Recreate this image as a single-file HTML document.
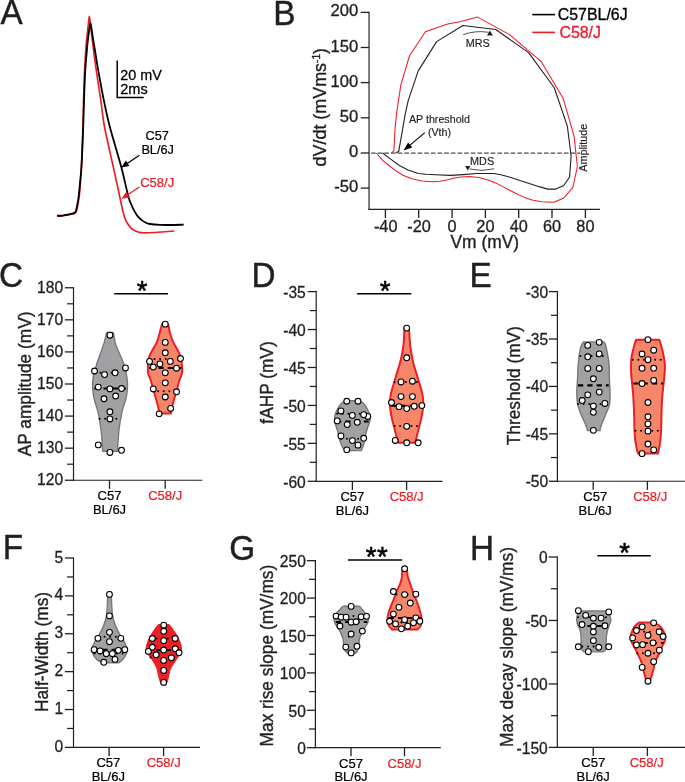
<!DOCTYPE html>
<html lang="en">
<head>
<meta charset="utf-8">
<title>Figure</title>
<style>
html,body{margin:0;padding:0;background:#fff;}
body{width:685px;height:782px;overflow:hidden;}
svg{display:block;}
svg text{font-family:"Liberation Sans", sans-serif;stroke-linejoin:round;}
</style>
</head>
<body>
<svg width="685" height="782" viewBox="0 0 685 782">
<rect width="685" height="782" fill="#fff"/>
<text transform="translate(0.6 24.2) scale(1 1.04)" font-size="33.3" fill="#231f20" stroke="#231f20" stroke-width="0.42" text-anchor="start">A</text>
<path d="M57 215.9 C57.83 215.9 60.25 216.07 62 215.9 C63.75 215.73 65.83 215.22 67.5 214.9 C69.17 214.58 70.75 214.28 72 214 C73.25 213.72 74.23 213.7 75 213.2 C75.77 212.7 76.13 212.37 76.6 211 C77.07 209.63 77.37 207.33 77.8 205 C78.23 202.67 78.77 200.67 79.2 197 C79.63 193.33 80.03 187.87 80.4 183 C80.77 178.13 81.08 174.13 81.4 167.8 C81.72 161.47 82.03 152.3 82.3 145 C82.57 137.7 82.77 132.33 83 124 C83.23 115.67 83.43 104 83.7 95 C83.97 86 84.25 77.5 84.6 70 C84.95 62.5 85.45 55.13 85.8 50 C86.15 44.87 86.28 43.43 86.7 39.2 C87.12 34.97 87.87 28.42 88.3 24.6 C88.73 20.78 88.93 16.3 89.3 16.3 C89.67 16.3 90.02 20.78 90.5 24.6 C90.98 28.42 91.28 31.9 92.2 39.2 C93.12 46.5 94.63 58.67 96 68.4 C97.37 78.13 99.07 88.33 100.4 97.6 C101.73 106.87 102.63 115.93 104 124 C105.37 132.07 107.02 138.7 108.6 146 C110.18 153.3 111.63 159.3 113.5 167.8 C115.37 176.3 118.22 189.7 119.8 197 C121.38 204.3 122.13 208.02 123 211.6 C123.87 215.18 124.27 216.55 125 218.5 C125.73 220.45 126.47 221.78 127.4 223.3 C128.33 224.82 129.38 226.38 130.6 227.6 C131.82 228.82 133.3 229.83 134.7 230.6 C136.1 231.37 137.55 231.83 139 232.2 C140.45 232.57 140.73 232.75 143.4 232.8 C146.07 232.85 151.4 232.68 155 232.5 C158.6 232.32 161.8 231.95 165 231.7 C168.2 231.45 172.67 231.12 174.2 231" fill="none" stroke="#ed1c24" stroke-width="1.65" stroke-linejoin="round"/>
<path d="M57 215.7 C57.83 215.7 60.25 215.88 62 215.7 C63.75 215.52 65.83 214.93 67.5 214.6 C69.17 214.27 70.82 214 72 213.7 C73.18 213.4 73.93 213.33 74.6 212.8 C75.27 212.27 75.57 211.8 76 210.5 C76.43 209.2 76.77 207.25 77.2 205 C77.63 202.75 78.13 200.67 78.6 197 C79.07 193.33 79.53 187.87 80 183 C80.47 178.13 80.98 174.13 81.4 167.8 C81.82 161.47 82.18 152.3 82.5 145 C82.82 137.7 83.02 132.33 83.3 124 C83.58 115.67 83.87 104 84.2 95 C84.53 86 84.85 77.5 85.3 70 C85.75 62.5 86.45 55.13 86.9 50 C87.35 44.87 87.58 42.78 88 39.2 C88.42 35.62 89.02 31.15 89.4 28.5 C89.78 25.85 89.98 23.47 90.3 23.3 C90.62 23.13 90.83 24.85 91.3 27.5 C91.77 30.15 92.42 34.95 93.1 39.2 C93.78 43.45 94.6 48.13 95.4 53 C96.2 57.87 96.58 60.97 97.9 68.4 C99.22 75.83 101.43 88.33 103.3 97.6 C105.17 106.87 107.08 115.85 109.1 124 C111.12 132.15 113.33 139.2 115.4 146.5 C117.47 153.8 119.32 159.38 121.5 167.8 C123.68 176.22 126.83 190.8 128.5 197 C130.17 203.2 130.47 202.57 131.5 205 C132.53 207.43 133.62 209.67 134.7 211.6 C135.78 213.53 136.78 215.13 138 216.6 C139.22 218.07 140.67 219.37 142 220.4 C143.33 221.43 144.67 222.2 146 222.8 C147.33 223.4 147.67 223.65 150 224 C152.33 224.35 156.67 224.73 160 224.9 C163.33 225.07 166.05 225.03 170 225 C173.95 224.97 181.42 224.75 183.7 224.7" fill="none" stroke="#000" stroke-width="1.8" stroke-linejoin="round"/>
<path d="M117.2 60.4 V97.4 H143.7" fill="none" stroke="#000" stroke-width="1.5"/>
<text transform="translate(120.3 80.2) scale(1 1.03)" font-size="14.4" fill="#000" stroke="#000" stroke-width="0.27" text-anchor="start">20 mV</text>
<text transform="translate(120.3 93.6) scale(1 1.03)" font-size="14.5" fill="#000" stroke="#000" stroke-width="0.27" text-anchor="start">2ms</text>
<text transform="translate(157.2 140.2) scale(1 1.04)" font-size="12.7" fill="#000" stroke="#000" stroke-width="0.23" text-anchor="middle">C57</text>
<text transform="translate(157.6 154.2) scale(1 1.04)" font-size="12.7" fill="#000" stroke="#000" stroke-width="0.23" text-anchor="middle">BL/6J</text>
<text transform="translate(157.2 187.2) scale(1 1.04)" font-size="13.0" fill="#ed1c24" stroke="#ed1c24" stroke-width="0.23" text-anchor="middle">C58/J</text>
<line x1="139.4" y1="155.2" x2="127.17" y2="163.51" stroke="#000" stroke-width="1.3"/>
<path d="M121.3 167.5 L125.79 160.58 L129.38 165.88 Z" fill="#000"/>
<line x1="139.4" y1="187" x2="127.41" y2="194.97" stroke="#ed1c24" stroke-width="1.3"/>
<path d="M121.5 198.9 L126.06 192.03 L129.6 197.36 Z" fill="#ed1c24"/>
<text transform="translate(273.3 24.6) scale(1 1.04)" font-size="33.3" fill="#231f20" stroke="#231f20" stroke-width="0.42" text-anchor="start">B</text>
<line x1="369.05" y1="11.8" x2="369.05" y2="209.9" stroke="#231f20" stroke-width="1.2"/>
<line x1="360.75" y1="12.4" x2="369.05" y2="12.4" stroke="#231f20" stroke-width="1.3"/>
<text transform="translate(358.25 16.4) scale(1 1.02)" font-size="16.6" fill="#231f20" stroke="#231f20" stroke-width="0.33" text-anchor="end">200</text>
<line x1="360.75" y1="47.5" x2="369.05" y2="47.5" stroke="#231f20" stroke-width="1.3"/>
<text transform="translate(358.25 51.5) scale(1 1.02)" font-size="16.6" fill="#231f20" stroke="#231f20" stroke-width="0.33" text-anchor="end">150</text>
<line x1="360.75" y1="82.6" x2="369.05" y2="82.6" stroke="#231f20" stroke-width="1.3"/>
<text transform="translate(358.25 86.6) scale(1 1.02)" font-size="16.6" fill="#231f20" stroke="#231f20" stroke-width="0.33" text-anchor="end">100</text>
<line x1="360.75" y1="117.8" x2="369.05" y2="117.8" stroke="#231f20" stroke-width="1.3"/>
<text transform="translate(358.25 121.8) scale(1 1.02)" font-size="16.6" fill="#231f20" stroke="#231f20" stroke-width="0.33" text-anchor="end">50</text>
<line x1="360.75" y1="153" x2="369.05" y2="153" stroke="#231f20" stroke-width="1.3"/>
<text transform="translate(358.25 157) scale(1 1.02)" font-size="16.6" fill="#231f20" stroke="#231f20" stroke-width="0.33" text-anchor="end">0</text>
<line x1="360.75" y1="188.1" x2="369.05" y2="188.1" stroke="#231f20" stroke-width="1.3"/>
<text transform="translate(358.25 192.1) scale(1 1.02)" font-size="16.6" fill="#231f20" stroke="#231f20" stroke-width="0.33" text-anchor="end">-50</text>
<line x1="368.45" y1="209.3" x2="600" y2="209.3" stroke="#231f20" stroke-width="1.2"/>
<line x1="385.4" y1="209.3" x2="385.4" y2="218" stroke="#231f20" stroke-width="1.3"/>
<text transform="translate(385.7 232.2) scale(1 1.03)" font-size="16.3" fill="#231f20" stroke="#231f20" stroke-width="0.32" text-anchor="middle">-40</text>
<line x1="418.7" y1="209.3" x2="418.7" y2="218" stroke="#231f20" stroke-width="1.3"/>
<text transform="translate(419 232.2) scale(1 1.03)" font-size="16.3" fill="#231f20" stroke="#231f20" stroke-width="0.32" text-anchor="middle">-20</text>
<line x1="452.1" y1="209.3" x2="452.1" y2="218" stroke="#231f20" stroke-width="1.3"/>
<text transform="translate(452.1 232.2) scale(1 1.03)" font-size="16.3" fill="#231f20" stroke="#231f20" stroke-width="0.32" text-anchor="middle">0</text>
<line x1="485.4" y1="209.3" x2="485.4" y2="218" stroke="#231f20" stroke-width="1.3"/>
<text transform="translate(485.4 232.2) scale(1 1.03)" font-size="16.3" fill="#231f20" stroke="#231f20" stroke-width="0.32" text-anchor="middle">20</text>
<line x1="518.7" y1="209.3" x2="518.7" y2="218" stroke="#231f20" stroke-width="1.3"/>
<text transform="translate(518.7 232.2) scale(1 1.03)" font-size="16.3" fill="#231f20" stroke="#231f20" stroke-width="0.32" text-anchor="middle">40</text>
<line x1="552" y1="209.3" x2="552" y2="218" stroke="#231f20" stroke-width="1.3"/>
<text transform="translate(552 232.2) scale(1 1.03)" font-size="16.3" fill="#231f20" stroke="#231f20" stroke-width="0.32" text-anchor="middle">60</text>
<line x1="585.4" y1="209.3" x2="585.4" y2="218" stroke="#231f20" stroke-width="1.3"/>
<text transform="translate(585.4 232.2) scale(1 1.03)" font-size="16.3" fill="#231f20" stroke="#231f20" stroke-width="0.32" text-anchor="middle">80</text>
<text transform="translate(484.8 247.6) scale(1 1.02)" font-size="17.4" fill="#231f20" stroke="#231f20" stroke-width="0.35" text-anchor="middle">Vm (mV)</text>
<text font-size="17.9" fill="#231f20" stroke="#231f20" stroke-width="0.35" text-anchor="middle" transform="translate(325.7 107.2) rotate(-90) scale(1 1.06)">dV/dt (mVms<tspan font-size="10.2" dy="-5.8">-1</tspan><tspan dy="5.8">)</tspan></text>
<line x1="371.05" y1="153.1" x2="580.2" y2="153.1" stroke="#4d4d4f" stroke-width="1.2" stroke-dasharray="4.6 2.05"/>
<path d="M391.4 153 L393.9 150.9 L395 129 L396.5 113.9 L400.9 84.7 L409.6 55.5 L425.4 31.7 L447.6 24.1 L460 21.7 L477.5 17.1 L509.6 34.6 L541 61.3 L563.1 98.2 L574 135.9 L577.4 166.5 L572.8 187.7 L563.8 197.9 L553.9 202.3 L541.9 201.8 L532 200 L524.7 197.6 L515 193 L505.7 188.1 L497 183.6 L488.2 180.1 L479 177.6 L469.2 176.4 L461 176.9 L454.6 177.9 L447.6 179.8 L440 181.3 L433 181.8 L422 181 L411.1 178.6 L403 175.3 L396.5 171.3 L389 165.5 L381.9 159.6 L376.4 153" fill="none" stroke="#ed1c24" stroke-width="1.05" stroke-linejoin="round"/>
<path d="M395.8 152.8 L398.7 151.6 L401.6 134.8 L405.3 113.9 L408.2 100.7 L418.1 71.1 L436.6 41.6 L462.9 25.5 L495.8 29.5 L528.6 52.6 L554.3 87.7 L567.4 126.4 L571.1 156 L569.6 177 L563.8 185.5 L555.8 189.1 L547.7 189.1 L540 186.9 L520 180.4 L510 177.2 L502 175 L494 173.5 L476.5 173.5 L463 174.6 L450.2 175.4 L435.9 174.7 L426 174.3 L418.4 173.5 L408 170 L399.4 165.5 L390 158.6 L382.6 153" fill="none" stroke="#231f20" stroke-width="1.1" stroke-linejoin="round"/>
<line x1="532.3" y1="14.6" x2="555" y2="14.6" stroke="#000" stroke-width="1.6"/>
<line x1="532.3" y1="32.4" x2="555" y2="32.4" stroke="#ed1c24" stroke-width="1.6"/>
<text transform="translate(557.8 20.3) scale(1 1.04)" font-size="15.9" fill="#000" stroke="#000" stroke-width="0.31" text-anchor="start">C57BL/6J</text>
<text transform="translate(559.4 38.2) scale(1 1.04)" font-size="15.9" fill="#ed1c24" stroke="#ed1c24" stroke-width="0.31" text-anchor="start">C58/J</text>
<text transform="translate(477.7 46.6)" font-size="10.8" fill="#231f20" stroke="#231f20" stroke-width="0.18" text-anchor="middle">MRS</text>
<path d="M463.2 34.6 Q476 30.2 488.6 32.3" fill="none" stroke="#231f20" stroke-width="0.8"/>
<path d="M489.9 30.6 L492.9 35.6 L487 35.6 Z" fill="#231f20"/>
<text transform="translate(482.1 165.2)" font-size="10.8" fill="#231f20" stroke="#231f20" stroke-width="0.18" text-anchor="middle">MDS</text>
<path d="M469.6 169.0 Q482 171.8 494.2 168.8" fill="none" stroke="#231f20" stroke-width="0.8"/>
<path d="M467.7 170.6 L465.1 166.1 L470.4 166.1 Z" fill="#231f20"/>
<text transform="translate(439.4 123.4)" font-size="10.7" fill="#231f20" stroke="#231f20" stroke-width="0.17" text-anchor="middle">AP threshold</text>
<text transform="translate(439.5 136)" font-size="10.7" fill="#231f20" stroke="#231f20" stroke-width="0.17" text-anchor="middle">(Vth)</text>
<line x1="424.8" y1="132.6" x2="409.77" y2="145.36" stroke="#000" stroke-width="1.1"/>
<path d="M403.6 150.6 L408.08 142.59 L412.23 147.47 Z" fill="#000"/>
<text transform="translate(586.9 147.8) rotate(-90) scale(1 1.06)" font-size="10.8" fill="#231f20" stroke="#231f20" stroke-width="0.18" text-anchor="middle">Amplitude</text>
<text transform="translate(-0.9 287) scale(1 1.04)" font-size="33.3" fill="#231f20" stroke="#231f20" stroke-width="0.42" text-anchor="start">C</text>
<line x1="73.5" y1="287.15" x2="73.5" y2="480.85" stroke="#231f20" stroke-width="1.2"/>
<line x1="64.9" y1="287.75" x2="73.5" y2="287.75" stroke="#231f20" stroke-width="1.3"/>
<text transform="translate(63.1 292.75) scale(1 1.03)" font-size="15.6" fill="#231f20" stroke="#231f20" stroke-width="0.3" text-anchor="end">180</text>
<line x1="67.1" y1="303.79" x2="73.5" y2="303.79" stroke="#231f20" stroke-width="1.25"/>
<line x1="64.9" y1="319.83" x2="73.5" y2="319.83" stroke="#231f20" stroke-width="1.3"/>
<text transform="translate(63.1 324.83) scale(1 1.03)" font-size="15.6" fill="#231f20" stroke="#231f20" stroke-width="0.3" text-anchor="end">170</text>
<line x1="67.1" y1="335.88" x2="73.5" y2="335.88" stroke="#231f20" stroke-width="1.25"/>
<line x1="64.9" y1="351.92" x2="73.5" y2="351.92" stroke="#231f20" stroke-width="1.3"/>
<text transform="translate(63.1 356.92) scale(1 1.03)" font-size="15.6" fill="#231f20" stroke="#231f20" stroke-width="0.3" text-anchor="end">160</text>
<line x1="67.1" y1="367.96" x2="73.5" y2="367.96" stroke="#231f20" stroke-width="1.25"/>
<line x1="64.9" y1="384" x2="73.5" y2="384" stroke="#231f20" stroke-width="1.3"/>
<text transform="translate(63.1 389) scale(1 1.03)" font-size="15.6" fill="#231f20" stroke="#231f20" stroke-width="0.3" text-anchor="end">150</text>
<line x1="67.1" y1="400.04" x2="73.5" y2="400.04" stroke="#231f20" stroke-width="1.25"/>
<line x1="64.9" y1="416.08" x2="73.5" y2="416.08" stroke="#231f20" stroke-width="1.3"/>
<text transform="translate(63.1 421.08) scale(1 1.03)" font-size="15.6" fill="#231f20" stroke="#231f20" stroke-width="0.3" text-anchor="end">140</text>
<line x1="67.1" y1="432.13" x2="73.5" y2="432.13" stroke="#231f20" stroke-width="1.25"/>
<line x1="64.9" y1="448.17" x2="73.5" y2="448.17" stroke="#231f20" stroke-width="1.3"/>
<text transform="translate(63.1 453.17) scale(1 1.03)" font-size="15.6" fill="#231f20" stroke="#231f20" stroke-width="0.3" text-anchor="end">130</text>
<line x1="67.1" y1="464.21" x2="73.5" y2="464.21" stroke="#231f20" stroke-width="1.25"/>
<line x1="64.9" y1="480.25" x2="73.5" y2="480.25" stroke="#231f20" stroke-width="1.3"/>
<text transform="translate(63.1 485.25) scale(1 1.03)" font-size="15.6" fill="#231f20" stroke="#231f20" stroke-width="0.3" text-anchor="end">120</text>
<line x1="72.9" y1="480.25" x2="202.3" y2="480.25" stroke="#231f20" stroke-width="1.2"/>
<line x1="109.5" y1="480.25" x2="109.5" y2="488.85" stroke="#231f20" stroke-width="1.3"/>
<line x1="165.2" y1="480.25" x2="165.2" y2="488.85" stroke="#231f20" stroke-width="1.3"/>
<text transform="translate(109.5 500.05) scale(1 1.04)" font-size="13.0" fill="#000" stroke="#000" stroke-width="0.23" text-anchor="middle">C57</text>
<text transform="translate(109.5 513.75) scale(1 1.04)" font-size="13.0" fill="#000" stroke="#000" stroke-width="0.23" text-anchor="middle">BL/6J</text>
<text transform="translate(165.2 500.05) scale(1 1.04)" font-size="13.0" fill="#ed1c24" stroke="#ed1c24" stroke-width="0.23" text-anchor="middle">C58/J</text>
<text transform="translate(30.7 383.9) rotate(-90) scale(1 1.07)" font-size="17.3" fill="#231f20" stroke="#231f20" stroke-width="0.35" text-anchor="middle">AP amplitude (mV)</text>
<path d="M107.39 332.45 C107.22 332.7 106.95 332.2 106.4 333.94 C105.85 335.68 104.97 339.91 104.08 342.89 C103.18 345.87 102.09 348.85 101.03 351.83 C99.98 354.82 98.5 358.54 97.73 360.78 C96.95 363.01 97.05 363.01 96.38 365.25 C95.71 367.49 94.33 371.21 93.7 374.19 C93.07 377.18 92.78 380.51 92.63 383.14 C92.48 385.77 92.55 387.37 92.81 390 C93.06 392.63 93.48 395.96 94.15 398.94 C94.82 401.93 96.01 404.91 96.83 407.89 C97.65 410.87 98.47 413.85 99.07 416.83 C99.66 419.82 99.99 422.8 100.41 425.78 C100.83 428.76 101.27 431.74 101.57 434.72 C101.87 437.7 102.02 440.91 102.2 443.67 C102.38 446.42 102.57 449.98 102.64 451.25 L117.44 451.25 C117.52 449.98 117.71 446.42 117.89 443.67 C118.07 440.91 118.25 437.7 118.52 434.72 C118.79 431.74 119.08 428.76 119.5 425.78 C119.92 422.8 120.44 419.82 121.02 416.83 C121.6 413.85 122.17 410.87 122.99 407.89 C123.81 404.91 125.23 401.93 125.94 398.94 C126.66 395.96 127.03 392.63 127.28 390 C127.54 387.37 127.61 385.77 127.46 383.14 C127.31 380.51 126.94 377.18 126.39 374.19 C125.84 371.21 124.78 367.49 124.15 365.25 C123.53 363.01 123.54 363.01 122.63 360.78 C121.72 358.54 119.93 354.82 118.7 351.83 C117.46 348.85 116.04 345.87 115.21 342.89 C114.37 339.91 114.11 335.68 113.69 333.94 C113.27 332.2 112.87 332.7 112.7 332.45 Z" fill="#a0a1a3" stroke="#77787b" stroke-width="1.4" stroke-linejoin="round"/>
<line x1="94.16" y1="388.55" x2="126.02" y2="388.55" stroke="#000" stroke-width="2.05" stroke-dasharray="5.2 4.1"/>
<line x1="100.43" y1="372.8" x2="119.22" y2="372.8" stroke="#000" stroke-width="2.0" stroke-linecap="round" stroke-dasharray="0.01 5.6"/>
<line x1="99.53" y1="418.79" x2="118.32" y2="418.79" stroke="#000" stroke-width="2.0" stroke-linecap="round" stroke-dasharray="0.01 5.6"/>
<circle cx="109.91" cy="335.21" r="2.9" fill="#fff" stroke="#000" stroke-width="1.08"/>
<circle cx="94.52" cy="371.01" r="2.9" fill="#fff" stroke="#000" stroke-width="1.08"/>
<circle cx="125.48" cy="367.96" r="2.9" fill="#fff" stroke="#000" stroke-width="1.08"/>
<circle cx="104.54" cy="374.59" r="2.9" fill="#fff" stroke="#000" stroke-width="1.08"/>
<circle cx="115.1" cy="372.8" r="2.9" fill="#fff" stroke="#000" stroke-width="1.08"/>
<circle cx="98.28" cy="387.11" r="2.9" fill="#fff" stroke="#000" stroke-width="1.08"/>
<circle cx="109.91" cy="388.9" r="2.9" fill="#fff" stroke="#000" stroke-width="1.08"/>
<circle cx="121.54" cy="388.55" r="2.9" fill="#fff" stroke="#000" stroke-width="1.08"/>
<circle cx="115.64" cy="396.06" r="2.9" fill="#fff" stroke="#000" stroke-width="1.08"/>
<circle cx="104" cy="398.75" r="2.9" fill="#fff" stroke="#000" stroke-width="1.08"/>
<circle cx="109.91" cy="411.81" r="2.9" fill="#fff" stroke="#000" stroke-width="1.08"/>
<circle cx="109.91" cy="418.97" r="2.9" fill="#fff" stroke="#000" stroke-width="1.08"/>
<circle cx="98.28" cy="444.92" r="2.9" fill="#fff" stroke="#000" stroke-width="1.08"/>
<circle cx="121.54" cy="450.29" r="2.9" fill="#fff" stroke="#000" stroke-width="1.08"/>
<circle cx="109.91" cy="452.44" r="2.9" fill="#fff" stroke="#000" stroke-width="1.08"/>
<path d="M162.01 324.13 C161.89 324.55 161.68 325.17 161.29 326.63 C160.91 328.09 160.4 330.35 159.68 332.89 C158.97 335.42 158.27 338.85 157 341.83 C155.73 344.82 153.39 348.24 152.08 350.78 C150.77 353.31 149.8 354.8 149.13 357.04 C148.46 359.28 148.23 361.51 148.06 364.19 C147.88 366.88 147.68 370.68 148.06 373.14 C148.43 375.6 149.47 376.49 150.29 378.94 C151.11 381.4 152.13 384.91 152.98 387.89 C153.82 390.87 154.57 393.85 155.39 396.83 C156.21 399.82 157.22 402.99 157.89 405.78 C158.57 408.56 159.16 412.26 159.42 413.55 L170.85 413.55 C171.11 412.26 171.7 408.56 172.37 405.78 C173.04 402.99 174.04 399.82 174.88 396.83 C175.71 393.85 176.56 390.87 177.38 387.89 C178.2 384.91 179.02 381.4 179.8 378.94 C180.57 376.49 181.69 375.6 182.03 373.14 C182.38 370.68 182.08 366.88 181.85 364.19 C181.63 361.51 181.33 359.28 180.69 357.04 C180.05 354.8 179.28 353.31 178.01 350.78 C176.74 348.24 174.43 344.82 173.09 341.83 C171.75 338.85 170.67 335.42 169.96 332.89 C169.24 330.35 169.11 328.09 168.8 326.63 C168.48 325.17 168.2 324.55 168.08 324.13 Z" fill="#f5866a" stroke="#ed1c24" stroke-width="1.95" stroke-linejoin="round"/>
<line x1="149.16" y1="368.01" x2="181.38" y2="368.01" stroke="#000" stroke-width="2.05" stroke-dasharray="5.2 4.1"/>
<line x1="154.53" y1="359.06" x2="174.22" y2="359.06" stroke="#000" stroke-width="2.0" stroke-linecap="round" stroke-dasharray="0.01 5.6"/>
<line x1="158.11" y1="391.28" x2="172.43" y2="391.28" stroke="#000" stroke-width="2.0" stroke-linecap="round" stroke-dasharray="0.01 5.6"/>
<circle cx="165.27" cy="324.16" r="2.9" fill="#fff" stroke="#000" stroke-width="1.08"/>
<circle cx="165.27" cy="342.42" r="2.9" fill="#fff" stroke="#000" stroke-width="1.08"/>
<circle cx="165.27" cy="352.8" r="2.9" fill="#fff" stroke="#000" stroke-width="1.08"/>
<circle cx="180.48" cy="358.52" r="2.9" fill="#fff" stroke="#000" stroke-width="1.08"/>
<circle cx="149.52" cy="361.39" r="2.9" fill="#fff" stroke="#000" stroke-width="1.08"/>
<circle cx="170.28" cy="361.39" r="2.9" fill="#fff" stroke="#000" stroke-width="1.08"/>
<circle cx="159.9" cy="363.89" r="2.9" fill="#fff" stroke="#000" stroke-width="1.08"/>
<circle cx="153.28" cy="367.11" r="2.9" fill="#fff" stroke="#000" stroke-width="1.08"/>
<circle cx="176.54" cy="368.19" r="2.9" fill="#fff" stroke="#000" stroke-width="1.08"/>
<circle cx="165.27" cy="372.84" r="2.9" fill="#fff" stroke="#000" stroke-width="1.08"/>
<circle cx="165.27" cy="382.86" r="2.9" fill="#fff" stroke="#000" stroke-width="1.08"/>
<circle cx="153.28" cy="388.95" r="2.9" fill="#fff" stroke="#000" stroke-width="1.08"/>
<circle cx="176.54" cy="391.81" r="2.9" fill="#fff" stroke="#000" stroke-width="1.08"/>
<circle cx="165.27" cy="397" r="2.9" fill="#fff" stroke="#000" stroke-width="1.08"/>
<circle cx="170.64" cy="408.46" r="2.9" fill="#fff" stroke="#000" stroke-width="1.08"/>
<circle cx="159.18" cy="413.83" r="2.9" fill="#fff" stroke="#000" stroke-width="1.08"/>
<line x1="114.2" y1="293.7" x2="168" y2="293.7" stroke="#000" stroke-width="1.45"/>
<text transform="translate(142 299.6)" font-size="27.5" fill="#000" stroke="#000" stroke-width="0.42" text-anchor="middle" style="stroke-width:0.55px">*</text>
<text transform="translate(251.4 287) scale(1 1.04)" font-size="33.3" fill="#231f20" stroke="#231f20" stroke-width="0.42" text-anchor="start">D</text>
<line x1="316.2" y1="291" x2="316.2" y2="481.9" stroke="#231f20" stroke-width="1.2"/>
<line x1="307.6" y1="291.6" x2="316.2" y2="291.6" stroke="#231f20" stroke-width="1.3"/>
<text transform="translate(305.8 297.9) scale(1 1.03)" font-size="15.6" fill="#231f20" stroke="#231f20" stroke-width="0.3" text-anchor="end">-35</text>
<line x1="309.8" y1="310.57" x2="316.2" y2="310.57" stroke="#231f20" stroke-width="1.25"/>
<line x1="307.6" y1="329.54" x2="316.2" y2="329.54" stroke="#231f20" stroke-width="1.3"/>
<text transform="translate(305.8 335.84) scale(1 1.03)" font-size="15.6" fill="#231f20" stroke="#231f20" stroke-width="0.3" text-anchor="end">-40</text>
<line x1="309.8" y1="348.51" x2="316.2" y2="348.51" stroke="#231f20" stroke-width="1.25"/>
<line x1="307.6" y1="367.48" x2="316.2" y2="367.48" stroke="#231f20" stroke-width="1.3"/>
<text transform="translate(305.8 373.78) scale(1 1.03)" font-size="15.6" fill="#231f20" stroke="#231f20" stroke-width="0.3" text-anchor="end">-45</text>
<line x1="309.8" y1="386.45" x2="316.2" y2="386.45" stroke="#231f20" stroke-width="1.25"/>
<line x1="307.6" y1="405.42" x2="316.2" y2="405.42" stroke="#231f20" stroke-width="1.3"/>
<text transform="translate(305.8 411.72) scale(1 1.03)" font-size="15.6" fill="#231f20" stroke="#231f20" stroke-width="0.3" text-anchor="end">-50</text>
<line x1="309.8" y1="424.39" x2="316.2" y2="424.39" stroke="#231f20" stroke-width="1.25"/>
<line x1="307.6" y1="443.36" x2="316.2" y2="443.36" stroke="#231f20" stroke-width="1.3"/>
<text transform="translate(305.8 449.66) scale(1 1.03)" font-size="15.6" fill="#231f20" stroke="#231f20" stroke-width="0.3" text-anchor="end">-55</text>
<line x1="309.8" y1="462.33" x2="316.2" y2="462.33" stroke="#231f20" stroke-width="1.25"/>
<line x1="307.6" y1="481.3" x2="316.2" y2="481.3" stroke="#231f20" stroke-width="1.3"/>
<text transform="translate(305.8 487.6) scale(1 1.03)" font-size="15.6" fill="#231f20" stroke="#231f20" stroke-width="0.3" text-anchor="end">-60</text>
<line x1="315.6" y1="481.3" x2="442.5" y2="481.3" stroke="#231f20" stroke-width="1.2"/>
<line x1="352.4" y1="481.3" x2="352.4" y2="489.9" stroke="#231f20" stroke-width="1.3"/>
<line x1="406.6" y1="481.3" x2="406.6" y2="489.9" stroke="#231f20" stroke-width="1.3"/>
<text transform="translate(352.4 501.1) scale(1 1.04)" font-size="13.0" fill="#000" stroke="#000" stroke-width="0.23" text-anchor="middle">C57</text>
<text transform="translate(352.4 514.8) scale(1 1.04)" font-size="13.0" fill="#000" stroke="#000" stroke-width="0.23" text-anchor="middle">BL/6J</text>
<text transform="translate(406.6 501.1) scale(1 1.04)" font-size="13.0" fill="#ed1c24" stroke="#ed1c24" stroke-width="0.23" text-anchor="middle">C58/J</text>
<text transform="translate(273.2 382.5) rotate(-90) scale(1 1.07)" font-size="17.3" fill="#231f20" stroke="#231f20" stroke-width="0.35" text-anchor="middle">fAHP (mV)</text>
<path d="M344.63 400.79 C344.05 401.31 342.24 402.73 341.13 403.94 C340.02 405.15 338.99 406.18 337.97 408.03 C336.96 409.88 335.58 412.9 335.05 415.04 C334.53 417.18 334.63 418.93 334.82 420.88 C335.02 422.82 335.7 424.77 336.22 426.72 C336.75 428.66 337.49 430.61 337.97 432.55 C338.46 434.5 338.62 436.45 339.14 438.39 C339.67 440.34 340.45 442.58 341.13 444.23 C341.81 445.89 342.53 447.25 343.23 448.32 C343.93 449.39 344.98 450.27 345.33 450.66 L361.28 450.66 C361.44 450.27 361.83 449.39 362.22 448.32 C362.61 447.25 363.15 445.89 363.62 444.23 C364.08 442.58 364.59 440.34 365.02 438.39 C365.45 436.45 365.7 434.5 366.19 432.55 C366.67 430.61 367.32 428.66 367.94 426.72 C368.56 424.77 369.63 422.82 369.92 420.88 C370.22 418.93 370.22 417.18 369.69 415.04 C369.16 412.9 367.74 409.88 366.77 408.03 C365.8 406.18 364.96 405.15 363.85 403.94 C362.74 402.73 360.74 401.31 360.11 400.79 Z" fill="#a0a1a3" stroke="#77787b" stroke-width="1.4" stroke-linejoin="round"/>
<line x1="336.02" y1="421.46" x2="368.72" y2="421.46" stroke="#000" stroke-width="2.05" stroke-dasharray="5.2 4.1"/>
<line x1="337.19" y1="413.87" x2="367.55" y2="413.87" stroke="#000" stroke-width="2.0" stroke-linecap="round" stroke-dasharray="0.01 5.6"/>
<line x1="341.28" y1="438.74" x2="364.05" y2="438.74" stroke="#000" stroke-width="2.0" stroke-linecap="round" stroke-dasharray="0.01 5.6"/>
<circle cx="346.77" cy="401.26" r="2.9" fill="#fff" stroke="#000" stroke-width="1.08"/>
<circle cx="357.98" cy="401.26" r="2.9" fill="#fff" stroke="#000" stroke-width="1.08"/>
<circle cx="340.93" cy="410.95" r="2.9" fill="#fff" stroke="#000" stroke-width="1.08"/>
<circle cx="352.37" cy="415.39" r="2.9" fill="#fff" stroke="#000" stroke-width="1.08"/>
<circle cx="367.79" cy="416.44" r="2.9" fill="#fff" stroke="#000" stroke-width="1.08"/>
<circle cx="363.7" cy="414.69" r="2.9" fill="#fff" stroke="#000" stroke-width="1.08"/>
<circle cx="337.19" cy="420.88" r="2.9" fill="#fff" stroke="#000" stroke-width="1.08"/>
<circle cx="357.28" cy="422.28" r="2.9" fill="#fff" stroke="#000" stroke-width="1.08"/>
<circle cx="347.23" cy="424.61" r="2.9" fill="#fff" stroke="#000" stroke-width="1.08"/>
<circle cx="340.93" cy="435.94" r="2.9" fill="#fff" stroke="#000" stroke-width="1.08"/>
<circle cx="363.7" cy="438.28" r="2.9" fill="#fff" stroke="#000" stroke-width="1.08"/>
<circle cx="352.37" cy="440.61" r="2.9" fill="#fff" stroke="#000" stroke-width="1.08"/>
<circle cx="357.98" cy="445.17" r="2.9" fill="#fff" stroke="#000" stroke-width="1.08"/>
<circle cx="346.77" cy="449.84" r="2.9" fill="#fff" stroke="#000" stroke-width="1.08"/>
<path d="M404.41 327.9 C404.35 329.39 404.23 333.86 404.05 336.85 C403.87 339.83 403.69 342.81 403.33 345.79 C402.98 348.78 402.5 351.76 401.9 354.74 C401.31 357.73 400.56 360.71 399.75 363.69 C398.95 366.67 397.96 369.66 397.07 372.64 C396.18 375.62 395.43 378.01 394.39 381.59 C393.34 385.17 391.55 390.24 390.81 394.12 C390.06 397.99 389.76 400.98 389.91 404.85 C390.06 408.73 390.96 413.5 391.7 417.38 C392.45 421.26 393.64 425.14 394.39 428.12 C395.13 431.1 395.49 432.83 396.18 435.28 C396.86 437.73 398.11 441.54 398.5 442.8 L415.26 442.8 C415.55 441.54 416.45 437.73 417.05 435.28 C417.64 432.83 418.09 431.1 418.84 428.12 C419.58 425.14 420.77 421.26 421.52 417.38 C422.27 413.5 423.16 408.73 423.31 404.85 C423.46 400.98 423.16 397.99 422.42 394.12 C421.67 390.24 419.88 385.17 418.84 381.59 C417.79 378.01 417.05 375.62 416.15 372.64 C415.26 369.66 414.21 366.67 413.47 363.69 C412.72 360.71 412.21 357.73 411.68 354.74 C411.14 351.76 410.6 348.78 410.25 345.79 C409.89 342.81 409.74 339.83 409.53 336.85 C409.32 333.86 409.08 329.39 408.99 327.9 Z" fill="#f5866a" stroke="#ed1c24" stroke-width="1.95" stroke-linejoin="round"/>
<line x1="390.95" y1="405.75" x2="422.27" y2="405.75" stroke="#000" stroke-width="2.05" stroke-dasharray="5.2 4.1"/>
<line x1="394.53" y1="381.95" x2="418.69" y2="381.95" stroke="#000" stroke-width="2.0" stroke-linecap="round" stroke-dasharray="0.01 5.6"/>
<line x1="394.53" y1="425.97" x2="418.69" y2="425.97" stroke="#000" stroke-width="2.0" stroke-linecap="round" stroke-dasharray="0.01 5.6"/>
<circle cx="406.7" cy="328.08" r="2.9" fill="#fff" stroke="#000" stroke-width="1.08"/>
<circle cx="406.7" cy="357.79" r="2.9" fill="#fff" stroke="#000" stroke-width="1.08"/>
<circle cx="400.97" cy="381.95" r="2.9" fill="#fff" stroke="#000" stroke-width="1.08"/>
<circle cx="412.43" cy="381.23" r="2.9" fill="#fff" stroke="#000" stroke-width="1.08"/>
<circle cx="400.97" cy="396.62" r="2.9" fill="#fff" stroke="#000" stroke-width="1.08"/>
<circle cx="412.43" cy="396.62" r="2.9" fill="#fff" stroke="#000" stroke-width="1.08"/>
<circle cx="391.49" cy="402.53" r="2.9" fill="#fff" stroke="#000" stroke-width="1.08"/>
<circle cx="399" cy="406.64" r="2.9" fill="#fff" stroke="#000" stroke-width="1.08"/>
<circle cx="406.7" cy="408.61" r="2.9" fill="#fff" stroke="#000" stroke-width="1.08"/>
<circle cx="414.22" cy="406.29" r="2.9" fill="#fff" stroke="#000" stroke-width="1.08"/>
<circle cx="421.91" cy="405.57" r="2.9" fill="#fff" stroke="#000" stroke-width="1.08"/>
<circle cx="406.7" cy="426.33" r="2.9" fill="#fff" stroke="#000" stroke-width="1.08"/>
<circle cx="395.25" cy="440.47" r="2.9" fill="#fff" stroke="#000" stroke-width="1.08"/>
<circle cx="406.7" cy="442.8" r="2.9" fill="#fff" stroke="#000" stroke-width="1.08"/>
<circle cx="418.15" cy="442.8" r="2.9" fill="#fff" stroke="#000" stroke-width="1.08"/>
<line x1="357.1" y1="293.7" x2="411.3" y2="293.7" stroke="#000" stroke-width="1.45"/>
<text transform="translate(385 299.6)" font-size="27.5" fill="#000" stroke="#000" stroke-width="0.42" text-anchor="middle" style="stroke-width:0.55px">*</text>
<text transform="translate(469.6 287) scale(1 1.04)" font-size="33.3" fill="#231f20" stroke="#231f20" stroke-width="0.42" text-anchor="start">E</text>
<line x1="557.4" y1="291" x2="557.4" y2="481.85" stroke="#231f20" stroke-width="1.2"/>
<line x1="548.8" y1="291.6" x2="557.4" y2="291.6" stroke="#231f20" stroke-width="1.3"/>
<text transform="translate(548.2 297.5) scale(1 1.03)" font-size="15.6" fill="#231f20" stroke="#231f20" stroke-width="0.3" text-anchor="end">-30</text>
<line x1="551" y1="315.31" x2="557.4" y2="315.31" stroke="#231f20" stroke-width="1.25"/>
<line x1="548.8" y1="339.01" x2="557.4" y2="339.01" stroke="#231f20" stroke-width="1.3"/>
<text transform="translate(548.2 344.91) scale(1 1.03)" font-size="15.6" fill="#231f20" stroke="#231f20" stroke-width="0.3" text-anchor="end">-35</text>
<line x1="551" y1="362.72" x2="557.4" y2="362.72" stroke="#231f20" stroke-width="1.25"/>
<line x1="548.8" y1="386.43" x2="557.4" y2="386.43" stroke="#231f20" stroke-width="1.3"/>
<text transform="translate(548.2 392.32) scale(1 1.03)" font-size="15.6" fill="#231f20" stroke="#231f20" stroke-width="0.3" text-anchor="end">-40</text>
<line x1="551" y1="410.13" x2="557.4" y2="410.13" stroke="#231f20" stroke-width="1.25"/>
<line x1="548.8" y1="433.84" x2="557.4" y2="433.84" stroke="#231f20" stroke-width="1.3"/>
<text transform="translate(548.2 439.74) scale(1 1.03)" font-size="15.6" fill="#231f20" stroke="#231f20" stroke-width="0.3" text-anchor="end">-45</text>
<line x1="551" y1="457.54" x2="557.4" y2="457.54" stroke="#231f20" stroke-width="1.25"/>
<line x1="548.8" y1="481.25" x2="557.4" y2="481.25" stroke="#231f20" stroke-width="1.3"/>
<text transform="translate(548.2 487.15) scale(1 1.03)" font-size="15.6" fill="#231f20" stroke="#231f20" stroke-width="0.3" text-anchor="end">-50</text>
<line x1="556.8" y1="481.25" x2="686" y2="481.25" stroke="#231f20" stroke-width="1.2"/>
<line x1="593.2" y1="481.25" x2="593.2" y2="489.85" stroke="#231f20" stroke-width="1.3"/>
<line x1="647.4" y1="481.25" x2="647.4" y2="489.85" stroke="#231f20" stroke-width="1.3"/>
<text transform="translate(595.2 500.65) scale(1 1.04)" font-size="13.0" fill="#000" stroke="#000" stroke-width="0.23" text-anchor="middle">C57</text>
<text transform="translate(595.2 514.55) scale(1 1.04)" font-size="13.0" fill="#000" stroke="#000" stroke-width="0.23" text-anchor="middle">BL/6J</text>
<text transform="translate(650.2 500.65) scale(1 1.04)" font-size="13.0" fill="#ed1c24" stroke="#ed1c24" stroke-width="0.23" text-anchor="middle">C58/J</text>
<text transform="translate(519.5 385.7) rotate(-90) scale(1 1.07)" font-size="17.3" fill="#231f20" stroke="#231f20" stroke-width="0.35" text-anchor="middle">Threshold (mV)</text>
<path d="M583.5 341.89 C583.19 342.4 582.22 343.68 581.65 344.96 C581.09 346.24 580.68 346.5 580.12 349.57 C579.56 352.64 578.71 358.53 578.28 363.39 C577.84 368.25 577.76 373.62 577.51 378.74 C577.25 383.86 576.69 389.75 576.74 394.1 C576.79 398.45 577.12 401.52 577.81 404.85 C578.51 408.17 579.68 410.99 580.89 414.06 C582.09 417.13 584.03 420.92 585.03 423.27 C586.03 425.63 586.46 426.96 586.87 428.19 C587.28 429.41 587.39 430.23 587.49 430.64 L600.05 430.64 C600.11 430.23 600.03 429.41 600.36 428.19 C600.69 426.96 601.13 425.63 602.05 423.27 C602.97 420.92 604.66 417.13 605.89 414.06 C607.12 410.99 608.73 408.17 609.42 404.85 C610.11 401.52 610.04 398.45 610.04 394.1 C610.04 389.75 609.6 383.86 609.42 378.74 C609.24 373.62 609.42 368.25 608.96 363.39 C608.5 358.53 607.22 352.64 606.66 349.57 C606.09 346.5 606.02 346.24 605.58 344.96 C605.15 343.68 604.3 342.4 604.05 341.89 Z" fill="#a0a1a3" stroke="#77787b" stroke-width="1.4" stroke-linejoin="round"/>
<line x1="578.03" y1="385.35" x2="608.74" y2="385.35" stroke="#000" stroke-width="2.05" stroke-dasharray="5.2 4.1"/>
<line x1="580.34" y1="356.02" x2="604.14" y2="356.02" stroke="#000" stroke-width="2.0" stroke-linecap="round" stroke-dasharray="0.01 5.6"/>
<line x1="578.03" y1="404.08" x2="607.21" y2="404.08" stroke="#000" stroke-width="2.0" stroke-linecap="round" stroke-dasharray="0.01 5.6"/>
<circle cx="599.22" cy="342.35" r="2.9" fill="#fff" stroke="#000" stroke-width="1.08"/>
<circle cx="587.71" cy="345.42" r="2.9" fill="#fff" stroke="#000" stroke-width="1.08"/>
<circle cx="599.22" cy="353.87" r="2.9" fill="#fff" stroke="#000" stroke-width="1.08"/>
<circle cx="587.71" cy="356.79" r="2.9" fill="#fff" stroke="#000" stroke-width="1.08"/>
<circle cx="587.71" cy="368.45" r="2.9" fill="#fff" stroke="#000" stroke-width="1.08"/>
<circle cx="599.22" cy="368.45" r="2.9" fill="#fff" stroke="#000" stroke-width="1.08"/>
<circle cx="593.39" cy="378.74" r="2.9" fill="#fff" stroke="#000" stroke-width="1.08"/>
<circle cx="599.22" cy="392.1" r="2.9" fill="#fff" stroke="#000" stroke-width="1.08"/>
<circle cx="587.71" cy="394.87" r="2.9" fill="#fff" stroke="#000" stroke-width="1.08"/>
<circle cx="582.18" cy="400.55" r="2.9" fill="#fff" stroke="#000" stroke-width="1.08"/>
<circle cx="604.9" cy="403.46" r="2.9" fill="#fff" stroke="#000" stroke-width="1.08"/>
<circle cx="593.39" cy="406.07" r="2.9" fill="#fff" stroke="#000" stroke-width="1.08"/>
<circle cx="593.39" cy="412.37" r="2.9" fill="#fff" stroke="#000" stroke-width="1.08"/>
<circle cx="593.39" cy="430.34" r="2.9" fill="#fff" stroke="#000" stroke-width="1.08"/>
<path d="M636.5 339.84 C636.42 339.87 636.33 339.42 636.05 340.02 C635.77 340.61 635.2 342.1 634.8 343.42 C634.39 344.73 634.17 345.65 633.63 347.89 C633.1 350.13 632.02 353.85 631.58 356.83 C631.13 359.82 631.01 362.8 630.95 365.78 C630.89 368.76 631.02 371.74 631.22 374.72 C631.41 377.7 631.83 380.69 632.11 383.67 C632.4 386.65 632.74 390.72 632.92 392.61 C633.1 394.5 633.07 393.11 633.19 395 C633.31 396.89 633.48 400.96 633.63 403.94 C633.78 406.93 633.98 409.91 634.08 412.89 C634.19 415.87 634.19 418.85 634.26 421.83 C634.33 424.82 634.38 427.8 634.53 430.78 C634.68 433.76 634.86 437.04 635.15 439.72 C635.45 442.41 635.9 444.79 636.32 446.88 C636.73 448.97 637.33 451.13 637.66 452.25 C637.99 453.36 638.18 453.36 638.28 453.58 L657.77 453.58 C657.85 453.36 657.95 453.36 658.22 452.25 C658.49 451.13 659.01 448.97 659.38 446.88 C659.76 444.79 660.17 442.41 660.46 439.72 C660.74 437.04 660.93 433.76 661.08 430.78 C661.23 427.8 661.28 424.82 661.35 421.83 C661.42 418.85 661.45 415.87 661.53 412.89 C661.6 409.91 661.65 406.93 661.8 403.94 C661.95 400.96 662.27 396.89 662.42 395 C662.57 393.11 662.5 394.5 662.69 392.61 C662.89 390.72 663.29 386.65 663.59 383.67 C663.88 380.69 664.26 377.7 664.48 374.72 C664.7 371.74 665.03 368.76 664.93 365.78 C664.82 362.8 664.38 359.82 663.85 356.83 C663.33 353.85 662.36 350.13 661.8 347.89 C661.23 345.65 660.86 344.73 660.46 343.42 C660.05 342.1 659.64 340.61 659.38 340.02 C659.13 339.42 659.01 339.87 658.94 339.84 Z" fill="#f5866a" stroke="#ed1c24" stroke-width="1.95" stroke-linejoin="round"/>
<line x1="633.28" y1="383.52" x2="663.17" y2="383.52" stroke="#000" stroke-width="2.05" stroke-dasharray="5.2 4.1"/>
<line x1="632.74" y1="359.72" x2="662.27" y2="359.72" stroke="#000" stroke-width="2.0" stroke-linecap="round" stroke-dasharray="0.01 5.6"/>
<line x1="635.43" y1="430.77" x2="659.59" y2="430.77" stroke="#000" stroke-width="2.0" stroke-linecap="round" stroke-dasharray="0.01 5.6"/>
<circle cx="647.95" cy="339.68" r="2.9" fill="#fff" stroke="#000" stroke-width="1.08"/>
<circle cx="653.68" cy="350.23" r="2.9" fill="#fff" stroke="#000" stroke-width="1.08"/>
<circle cx="642.05" cy="353.99" r="2.9" fill="#fff" stroke="#000" stroke-width="1.08"/>
<circle cx="647.95" cy="359.72" r="2.9" fill="#fff" stroke="#000" stroke-width="1.08"/>
<circle cx="642.05" cy="368.31" r="2.9" fill="#fff" stroke="#000" stroke-width="1.08"/>
<circle cx="653.68" cy="368.31" r="2.9" fill="#fff" stroke="#000" stroke-width="1.08"/>
<circle cx="653.68" cy="380.48" r="2.9" fill="#fff" stroke="#000" stroke-width="1.08"/>
<circle cx="642.05" cy="383.52" r="2.9" fill="#fff" stroke="#000" stroke-width="1.08"/>
<circle cx="647.95" cy="402.49" r="2.9" fill="#fff" stroke="#000" stroke-width="1.08"/>
<circle cx="647.95" cy="416.81" r="2.9" fill="#fff" stroke="#000" stroke-width="1.08"/>
<circle cx="647.95" cy="423.97" r="2.9" fill="#fff" stroke="#000" stroke-width="1.08"/>
<circle cx="647.95" cy="431.13" r="2.9" fill="#fff" stroke="#000" stroke-width="1.08"/>
<circle cx="647.95" cy="444.02" r="2.9" fill="#fff" stroke="#000" stroke-width="1.08"/>
<circle cx="653.68" cy="449.92" r="2.9" fill="#fff" stroke="#000" stroke-width="1.08"/>
<circle cx="642.05" cy="453.68" r="2.9" fill="#fff" stroke="#000" stroke-width="1.08"/>
<text transform="translate(2.7 559.3) scale(1 1.04)" font-size="33.3" fill="#231f20" stroke="#231f20" stroke-width="0.42" text-anchor="start">F</text>
<line x1="73.5" y1="557.4" x2="73.5" y2="748" stroke="#231f20" stroke-width="1.2"/>
<line x1="64.9" y1="558" x2="73.5" y2="558" stroke="#231f20" stroke-width="1.3"/>
<text transform="translate(63.1 562.6) scale(1 1.03)" font-size="15.6" fill="#231f20" stroke="#231f20" stroke-width="0.3" text-anchor="end">5</text>
<line x1="67.1" y1="576.94" x2="73.5" y2="576.94" stroke="#231f20" stroke-width="1.25"/>
<line x1="64.9" y1="595.88" x2="73.5" y2="595.88" stroke="#231f20" stroke-width="1.3"/>
<text transform="translate(63.1 600.48) scale(1 1.03)" font-size="15.6" fill="#231f20" stroke="#231f20" stroke-width="0.3" text-anchor="end">4</text>
<line x1="67.1" y1="614.82" x2="73.5" y2="614.82" stroke="#231f20" stroke-width="1.25"/>
<line x1="64.9" y1="633.76" x2="73.5" y2="633.76" stroke="#231f20" stroke-width="1.3"/>
<text transform="translate(63.1 638.36) scale(1 1.03)" font-size="15.6" fill="#231f20" stroke="#231f20" stroke-width="0.3" text-anchor="end">3</text>
<line x1="67.1" y1="652.7" x2="73.5" y2="652.7" stroke="#231f20" stroke-width="1.25"/>
<line x1="64.9" y1="671.64" x2="73.5" y2="671.64" stroke="#231f20" stroke-width="1.3"/>
<text transform="translate(63.1 676.24) scale(1 1.03)" font-size="15.6" fill="#231f20" stroke="#231f20" stroke-width="0.3" text-anchor="end">2</text>
<line x1="67.1" y1="690.58" x2="73.5" y2="690.58" stroke="#231f20" stroke-width="1.25"/>
<line x1="64.9" y1="709.52" x2="73.5" y2="709.52" stroke="#231f20" stroke-width="1.3"/>
<text transform="translate(63.1 714.12) scale(1 1.03)" font-size="15.6" fill="#231f20" stroke="#231f20" stroke-width="0.3" text-anchor="end">1</text>
<line x1="67.1" y1="728.46" x2="73.5" y2="728.46" stroke="#231f20" stroke-width="1.25"/>
<line x1="64.9" y1="747.4" x2="73.5" y2="747.4" stroke="#231f20" stroke-width="1.3"/>
<text transform="translate(63.1 752) scale(1 1.03)" font-size="15.6" fill="#231f20" stroke="#231f20" stroke-width="0.3" text-anchor="end">0</text>
<line x1="72.9" y1="747.4" x2="200" y2="747.4" stroke="#231f20" stroke-width="1.2"/>
<line x1="109.1" y1="747.4" x2="109.1" y2="756" stroke="#231f20" stroke-width="1.3"/>
<line x1="163.6" y1="747.4" x2="163.6" y2="756" stroke="#231f20" stroke-width="1.3"/>
<text transform="translate(108.3 767.2) scale(1 1.04)" font-size="13.0" fill="#000" stroke="#000" stroke-width="0.23" text-anchor="middle">C57</text>
<text transform="translate(108.3 780.9) scale(1 1.04)" font-size="13.0" fill="#000" stroke="#000" stroke-width="0.23" text-anchor="middle">BL/6J</text>
<text transform="translate(163.7 767.2) scale(1 1.04)" font-size="13.0" fill="#ed1c24" stroke="#ed1c24" stroke-width="0.23" text-anchor="middle">C58/J</text>
<text transform="translate(47.5 652) rotate(-90) scale(1 1.07)" font-size="17.3" fill="#231f20" stroke="#231f20" stroke-width="0.35" text-anchor="middle">Half-Width (ms)</text>
<path d="M107.76 592.28 C107.71 594.08 107.66 599.19 107.46 603.03 C107.25 606.87 107.2 611.48 106.53 615.32 C105.87 619.16 104.62 622.99 103.46 626.07 C102.31 629.14 101.03 631.18 99.62 633.74 C98.22 636.3 96.3 638.86 95.02 641.42 C93.74 643.98 92.2 646.79 91.95 649.1 C91.69 651.4 92.59 653.45 93.48 655.24 C94.38 657.03 95.79 658.57 97.32 659.85 C98.86 661.13 101.8 662.41 102.7 662.92 L118.69 662.92 C119.33 662.41 121.37 661.13 122.53 659.85 C123.68 658.57 124.83 657.03 125.6 655.24 C126.36 653.45 127.39 651.4 127.13 649.1 C126.88 646.79 125.34 643.98 124.06 641.42 C122.78 638.86 120.86 636.3 119.45 633.74 C118.05 631.18 116.77 629.14 115.62 626.07 C114.46 622.99 113.21 619.16 112.54 615.32 C111.88 611.48 111.83 606.87 111.62 603.03 C111.42 599.19 111.37 594.08 111.32 592.28 Z" fill="#a0a1a3" stroke="#77787b" stroke-width="1.4" stroke-linejoin="round"/>
<line x1="93.03" y1="649.87" x2="126.05" y2="649.87" stroke="#000" stroke-width="2.05" stroke-dasharray="5.2 4.1"/>
<line x1="104.55" y1="636.81" x2="116.83" y2="636.81" stroke="#000" stroke-width="2.0" stroke-linecap="round" stroke-dasharray="0.01 5.6"/>
<line x1="94.57" y1="653.4" x2="124.51" y2="653.4" stroke="#000" stroke-width="2.0" stroke-linecap="round" stroke-dasharray="0.01 5.6"/>
<circle cx="109.46" cy="594.43" r="2.9" fill="#fff" stroke="#000" stroke-width="1.08"/>
<circle cx="109.46" cy="615.93" r="2.9" fill="#fff" stroke="#000" stroke-width="1.08"/>
<circle cx="109.46" cy="632.36" r="2.9" fill="#fff" stroke="#000" stroke-width="1.08"/>
<circle cx="97.95" cy="638.35" r="2.9" fill="#fff" stroke="#000" stroke-width="1.08"/>
<circle cx="120.83" cy="638.35" r="2.9" fill="#fff" stroke="#000" stroke-width="1.08"/>
<circle cx="109.46" cy="641.73" r="2.9" fill="#fff" stroke="#000" stroke-width="1.08"/>
<circle cx="94.11" cy="649.71" r="2.9" fill="#fff" stroke="#000" stroke-width="1.08"/>
<circle cx="124.82" cy="649.71" r="2.9" fill="#fff" stroke="#000" stroke-width="1.08"/>
<circle cx="100.1" cy="650.94" r="2.9" fill="#fff" stroke="#000" stroke-width="1.08"/>
<circle cx="118.37" cy="650.33" r="2.9" fill="#fff" stroke="#000" stroke-width="1.08"/>
<circle cx="106.24" cy="653.7" r="2.9" fill="#fff" stroke="#000" stroke-width="1.08"/>
<circle cx="112.38" cy="653.7" r="2.9" fill="#fff" stroke="#000" stroke-width="1.08"/>
<circle cx="114.99" cy="659.39" r="2.9" fill="#fff" stroke="#000" stroke-width="1.08"/>
<circle cx="103.78" cy="662.3" r="2.9" fill="#fff" stroke="#000" stroke-width="1.08"/>
<path d="M158.31 624.53 C157.55 625.55 155.24 628.37 153.71 630.67 C152.17 632.98 150.3 635.79 149.1 638.35 C147.9 640.91 146.87 643.72 146.49 646.03 C146.11 648.33 145.85 649.87 146.8 652.17 C147.74 654.47 150.56 657.29 152.17 659.85 C153.78 662.41 155.55 665.48 156.47 667.52 C157.39 669.57 157.16 669.98 157.7 672.13 C158.24 674.28 159.03 678.27 159.7 680.42 C160.36 682.57 161.36 684.26 161.69 685.03 L165.7 685.03 C166.03 684.26 167.05 682.57 167.69 680.42 C168.33 678.27 168.95 674.28 169.54 672.13 C170.13 669.98 170.13 669.57 171.23 667.52 C172.33 665.48 174.55 662.41 176.14 659.85 C177.73 657.29 179.9 654.47 180.75 652.17 C181.59 649.87 181.59 648.33 181.21 646.03 C180.82 643.72 179.67 640.91 178.44 638.35 C177.21 635.79 175.37 632.98 173.84 630.67 C172.3 628.37 170 625.55 169.23 624.53 Z" fill="#ec2024" stroke="#ec2024" stroke-width="1.0" stroke-linejoin="round"/>
<line x1="156.48" y1="650.02" x2="171.07" y2="650.02" stroke="#000" stroke-width="2.05" stroke-dasharray="5.2 4.1"/>
<line x1="156.48" y1="638.5" x2="169.53" y2="638.5" stroke="#000" stroke-width="2.0" stroke-linecap="round" stroke-dasharray="0.01 5.6"/>
<line x1="150.64" y1="657.39" x2="151.1" y2="657.39" stroke="#000" stroke-width="2.0" stroke-linecap="round" stroke-dasharray="0.01 5.6"/>
<circle cx="163.69" cy="625.14" r="2.9" fill="#fff" stroke="#000" stroke-width="1.08"/>
<circle cx="163.69" cy="631.29" r="2.9" fill="#fff" stroke="#000" stroke-width="1.08"/>
<circle cx="152.33" cy="638.5" r="2.9" fill="#fff" stroke="#000" stroke-width="1.08"/>
<circle cx="175.21" cy="638.5" r="2.9" fill="#fff" stroke="#000" stroke-width="1.08"/>
<circle cx="163.69" cy="640.65" r="2.9" fill="#fff" stroke="#000" stroke-width="1.08"/>
<circle cx="152.33" cy="647.26" r="2.9" fill="#fff" stroke="#000" stroke-width="1.08"/>
<circle cx="175.21" cy="648.79" r="2.9" fill="#fff" stroke="#000" stroke-width="1.08"/>
<circle cx="163.69" cy="650.02" r="2.9" fill="#fff" stroke="#000" stroke-width="1.08"/>
<circle cx="148.34" cy="651.4" r="2.9" fill="#fff" stroke="#000" stroke-width="1.08"/>
<circle cx="179.05" cy="652.78" r="2.9" fill="#fff" stroke="#000" stroke-width="1.08"/>
<circle cx="156.17" cy="654.78" r="2.9" fill="#fff" stroke="#000" stroke-width="1.08"/>
<circle cx="171.37" cy="657.85" r="2.9" fill="#fff" stroke="#000" stroke-width="1.08"/>
<circle cx="163.69" cy="660.46" r="2.9" fill="#fff" stroke="#000" stroke-width="1.08"/>
<circle cx="163.69" cy="670.44" r="2.9" fill="#fff" stroke="#000" stroke-width="1.08"/>
<circle cx="163.69" cy="682.42" r="2.9" fill="#fff" stroke="#000" stroke-width="1.08"/>
<text transform="translate(229.2 559.7) scale(1 1.04)" font-size="33.3" fill="#231f20" stroke="#231f20" stroke-width="0.42" text-anchor="start">G</text>
<line x1="315.4" y1="560.1" x2="315.4" y2="748.3" stroke="#231f20" stroke-width="1.2"/>
<line x1="306.8" y1="560.7" x2="315.4" y2="560.7" stroke="#231f20" stroke-width="1.3"/>
<text transform="translate(305.9 566.9) scale(1 1.03)" font-size="15.6" fill="#231f20" stroke="#231f20" stroke-width="0.3" text-anchor="end">250</text>
<line x1="309" y1="579.4" x2="315.4" y2="579.4" stroke="#231f20" stroke-width="1.25"/>
<line x1="306.8" y1="598.1" x2="315.4" y2="598.1" stroke="#231f20" stroke-width="1.3"/>
<text transform="translate(305.9 604.3) scale(1 1.03)" font-size="15.6" fill="#231f20" stroke="#231f20" stroke-width="0.3" text-anchor="end">200</text>
<line x1="309" y1="616.8" x2="315.4" y2="616.8" stroke="#231f20" stroke-width="1.25"/>
<line x1="306.8" y1="635.5" x2="315.4" y2="635.5" stroke="#231f20" stroke-width="1.3"/>
<text transform="translate(305.9 641.7) scale(1 1.03)" font-size="15.6" fill="#231f20" stroke="#231f20" stroke-width="0.3" text-anchor="end">150</text>
<line x1="309" y1="654.2" x2="315.4" y2="654.2" stroke="#231f20" stroke-width="1.25"/>
<line x1="306.8" y1="672.9" x2="315.4" y2="672.9" stroke="#231f20" stroke-width="1.3"/>
<text transform="translate(305.9 679.1) scale(1 1.03)" font-size="15.6" fill="#231f20" stroke="#231f20" stroke-width="0.3" text-anchor="end">100</text>
<line x1="309" y1="691.6" x2="315.4" y2="691.6" stroke="#231f20" stroke-width="1.25"/>
<line x1="306.8" y1="710.3" x2="315.4" y2="710.3" stroke="#231f20" stroke-width="1.3"/>
<text transform="translate(305.9 716.5) scale(1 1.03)" font-size="15.6" fill="#231f20" stroke="#231f20" stroke-width="0.3" text-anchor="end">50</text>
<line x1="309" y1="729" x2="315.4" y2="729" stroke="#231f20" stroke-width="1.25"/>
<line x1="306.8" y1="747.7" x2="315.4" y2="747.7" stroke="#231f20" stroke-width="1.3"/>
<text transform="translate(305.9 753.9) scale(1 1.03)" font-size="15.6" fill="#231f20" stroke="#231f20" stroke-width="0.3" text-anchor="end">0</text>
<line x1="314.8" y1="747.7" x2="440.8" y2="747.7" stroke="#231f20" stroke-width="1.2"/>
<line x1="351" y1="747.7" x2="351" y2="756.3" stroke="#231f20" stroke-width="1.3"/>
<line x1="404.5" y1="747.7" x2="404.5" y2="756.3" stroke="#231f20" stroke-width="1.3"/>
<text transform="translate(351 767.5) scale(1 1.04)" font-size="13.0" fill="#000" stroke="#000" stroke-width="0.23" text-anchor="middle">C57</text>
<text transform="translate(351 781.2) scale(1 1.04)" font-size="13.0" fill="#000" stroke="#000" stroke-width="0.23" text-anchor="middle">BL/6J</text>
<text transform="translate(404.5 767.5) scale(1 1.04)" font-size="13.0" fill="#ed1c24" stroke="#ed1c24" stroke-width="0.23" text-anchor="middle">C58/J</text>
<text transform="translate(273 655.6) rotate(-90) scale(1 1.07)" font-size="17.3" fill="#231f20" stroke="#231f20" stroke-width="0.35" text-anchor="middle">Max rise slope (mV/ms)</text>
<path d="M343.82 606.2 C343.53 606.35 342.66 606.56 342.03 607.08 C341.41 607.59 340.96 608.34 340.07 609.31 C339.17 610.28 337.61 611.7 336.67 612.89 C335.73 614.08 334.88 615.5 334.43 616.47 C333.98 617.44 334.01 617.96 333.98 618.7 C333.95 619.45 333.98 619.97 334.25 620.94 C334.52 621.91 334.88 623.18 335.59 624.52 C336.31 625.86 337.58 627.35 338.55 628.99 C339.52 630.63 340.63 632.57 341.41 634.36 C342.18 636.14 342.82 637.93 343.2 639.72 C343.57 641.51 343.35 643.3 343.64 645.09 C343.94 646.88 344.43 649.15 344.99 650.46 C345.54 651.76 346.63 652.52 346.95 652.94 L356.03 652.94 C356.28 652.52 357.07 651.76 357.55 650.46 C358.03 649.15 358.59 646.88 358.89 645.09 C359.19 643.3 359 641.51 359.34 639.72 C359.68 637.93 360.17 636.14 360.95 634.36 C361.72 632.57 362.99 630.63 363.99 628.99 C364.99 627.35 366.23 625.86 366.94 624.52 C367.66 623.18 368.05 621.91 368.28 620.94 C368.52 619.97 368.43 619.45 368.37 618.7 C368.31 617.96 368.46 617.44 367.93 616.47 C367.39 615.5 366.14 614.08 365.15 612.89 C364.17 611.7 362.81 610.28 362.02 609.31 C361.23 608.34 360.92 607.59 360.41 607.08 C359.91 606.56 359.22 606.35 358.98 606.2 Z" fill="#a0a1a3" stroke="#77787b" stroke-width="1.4" stroke-linejoin="round"/>
<line x1="335.8" y1="621.9" x2="367.28" y2="621.9" stroke="#000" stroke-width="2.05" stroke-dasharray="5.2 4.1"/>
<line x1="336.57" y1="616.07" x2="365.74" y2="616.07" stroke="#000" stroke-width="2.0" stroke-linecap="round" stroke-dasharray="0.01 5.6"/>
<line x1="348.85" y1="636.79" x2="354.23" y2="636.79" stroke="#000" stroke-width="2.0" stroke-linecap="round" stroke-dasharray="0.01 5.6"/>
<circle cx="351.16" cy="606.39" r="2.9" fill="#fff" stroke="#000" stroke-width="1.08"/>
<circle cx="336.11" cy="616.07" r="2.9" fill="#fff" stroke="#000" stroke-width="1.08"/>
<circle cx="341.17" cy="617.14" r="2.9" fill="#fff" stroke="#000" stroke-width="1.08"/>
<circle cx="346.09" cy="617.14" r="2.9" fill="#fff" stroke="#000" stroke-width="1.08"/>
<circle cx="361.14" cy="616.83" r="2.9" fill="#fff" stroke="#000" stroke-width="1.08"/>
<circle cx="366.51" cy="616.37" r="2.9" fill="#fff" stroke="#000" stroke-width="1.08"/>
<circle cx="351.16" cy="622.21" r="2.9" fill="#fff" stroke="#000" stroke-width="1.08"/>
<circle cx="356.07" cy="621.75" r="2.9" fill="#fff" stroke="#000" stroke-width="1.08"/>
<circle cx="339.95" cy="626.05" r="2.9" fill="#fff" stroke="#000" stroke-width="1.08"/>
<circle cx="362.36" cy="631.11" r="2.9" fill="#fff" stroke="#000" stroke-width="1.08"/>
<circle cx="351.16" cy="634.03" r="2.9" fill="#fff" stroke="#000" stroke-width="1.08"/>
<circle cx="345.78" cy="647.08" r="2.9" fill="#fff" stroke="#000" stroke-width="1.08"/>
<circle cx="356.99" cy="646.31" r="2.9" fill="#fff" stroke="#000" stroke-width="1.08"/>
<circle cx="351.16" cy="652.92" r="2.9" fill="#fff" stroke="#000" stroke-width="1.08"/>
<path d="M402.65 568.03 C402.59 568.34 402.37 568.54 402.27 569.88 C402.17 571.21 402.31 573.94 402.04 576.02 C401.77 578.09 401.51 579.78 400.66 582.31 C399.8 584.85 398.12 588.22 396.89 591.22 C395.67 594.21 394.48 597.28 393.29 600.28 C392.1 603.27 390.65 606.65 389.75 609.18 C388.86 611.72 388.28 613.53 387.91 615.48 C387.54 617.42 387.32 619.04 387.53 620.85 C387.73 622.67 388.36 624.95 389.14 626.38 C389.92 627.82 391.7 628.94 392.21 629.45 L417.48 629.45 C417.97 628.94 419.7 627.82 420.4 626.38 C421.1 624.95 421.59 622.67 421.7 620.85 C421.82 619.04 421.46 617.42 421.09 615.48 C420.72 613.53 420.27 611.72 419.48 609.18 C418.68 606.65 417.46 603.27 416.33 600.28 C415.2 597.28 413.84 594.21 412.72 591.22 C411.61 588.22 410.5 584.85 409.65 582.31 C408.81 579.78 408.08 578.09 407.65 576.02 C407.23 573.94 407.27 571.21 407.12 569.88 C406.96 568.54 406.8 568.34 406.73 568.03 Z" fill="#f5866a" stroke="#ed1c24" stroke-width="1.95" stroke-linejoin="round"/>
<line x1="388.65" y1="617.94" x2="421.66" y2="617.94" stroke="#000" stroke-width="2.05" stroke-dasharray="5.2 4.1"/>
<line x1="396.48" y1="594.6" x2="409.53" y2="594.6" stroke="#000" stroke-width="2.0" stroke-linecap="round" stroke-dasharray="0.01 5.6"/>
<line x1="395.71" y1="622.54" x2="414.14" y2="622.54" stroke="#000" stroke-width="2.0" stroke-linecap="round" stroke-dasharray="0.01 5.6"/>
<circle cx="404.62" cy="568.8" r="2.9" fill="#fff" stroke="#000" stroke-width="1.08"/>
<circle cx="393.41" cy="591.53" r="2.9" fill="#fff" stroke="#000" stroke-width="1.08"/>
<circle cx="404.62" cy="594.6" r="2.9" fill="#fff" stroke="#000" stroke-width="1.08"/>
<circle cx="415.83" cy="594.14" r="2.9" fill="#fff" stroke="#000" stroke-width="1.08"/>
<circle cx="410.3" cy="603.04" r="2.9" fill="#fff" stroke="#000" stroke-width="1.08"/>
<circle cx="398.93" cy="607.34" r="2.9" fill="#fff" stroke="#000" stroke-width="1.08"/>
<circle cx="393.41" cy="614.1" r="2.9" fill="#fff" stroke="#000" stroke-width="1.08"/>
<circle cx="415.83" cy="617.94" r="2.9" fill="#fff" stroke="#000" stroke-width="1.08"/>
<circle cx="404.62" cy="619.63" r="2.9" fill="#fff" stroke="#000" stroke-width="1.08"/>
<circle cx="389.57" cy="621.31" r="2.9" fill="#fff" stroke="#000" stroke-width="1.08"/>
<circle cx="419.82" cy="621.31" r="2.9" fill="#fff" stroke="#000" stroke-width="1.08"/>
<circle cx="395.56" cy="623.93" r="2.9" fill="#fff" stroke="#000" stroke-width="1.08"/>
<circle cx="413.52" cy="622.85" r="2.9" fill="#fff" stroke="#000" stroke-width="1.08"/>
<circle cx="407.69" cy="626.23" r="2.9" fill="#fff" stroke="#000" stroke-width="1.08"/>
<circle cx="401.39" cy="628.84" r="2.9" fill="#fff" stroke="#000" stroke-width="1.08"/>
<line x1="348" y1="559.9" x2="402.2" y2="559.9" stroke="#000" stroke-width="1.45"/>
<text transform="translate(377 565.7)" font-size="27.5" fill="#000" stroke="#000" stroke-width="0.42" text-anchor="middle" style="stroke-width:0.55px" letter-spacing="0.6">**</text>
<text transform="translate(470 559.6) scale(1 1.04)" font-size="33.3" fill="#231f20" stroke="#231f20" stroke-width="0.42" text-anchor="start">H</text>
<line x1="557.3" y1="556.4" x2="557.3" y2="748" stroke="#231f20" stroke-width="1.2"/>
<line x1="548.7" y1="557" x2="557.3" y2="557" stroke="#231f20" stroke-width="1.3"/>
<text transform="translate(547.8 563.4) scale(1 1.03)" font-size="15.6" fill="#231f20" stroke="#231f20" stroke-width="0.3" text-anchor="end">0</text>
<line x1="550.9" y1="588.73" x2="557.3" y2="588.73" stroke="#231f20" stroke-width="1.25"/>
<line x1="548.7" y1="620.47" x2="557.3" y2="620.47" stroke="#231f20" stroke-width="1.3"/>
<text transform="translate(547.8 626.87) scale(1 1.03)" font-size="15.6" fill="#231f20" stroke="#231f20" stroke-width="0.3" text-anchor="end">-50</text>
<line x1="550.9" y1="652.2" x2="557.3" y2="652.2" stroke="#231f20" stroke-width="1.25"/>
<line x1="548.7" y1="683.93" x2="557.3" y2="683.93" stroke="#231f20" stroke-width="1.3"/>
<text transform="translate(547.8 690.33) scale(1 1.03)" font-size="15.6" fill="#231f20" stroke="#231f20" stroke-width="0.3" text-anchor="end">-100</text>
<line x1="550.9" y1="715.67" x2="557.3" y2="715.67" stroke="#231f20" stroke-width="1.25"/>
<line x1="548.7" y1="747.4" x2="557.3" y2="747.4" stroke="#231f20" stroke-width="1.3"/>
<text transform="translate(547.8 753.8) scale(1 1.03)" font-size="15.6" fill="#231f20" stroke="#231f20" stroke-width="0.3" text-anchor="end">-150</text>
<line x1="556.7" y1="747.4" x2="686" y2="747.4" stroke="#231f20" stroke-width="1.2"/>
<line x1="593.2" y1="747.4" x2="593.2" y2="756" stroke="#231f20" stroke-width="1.3"/>
<line x1="647.4" y1="747.4" x2="647.4" y2="756" stroke="#231f20" stroke-width="1.3"/>
<text transform="translate(593.2 767.2) scale(1 1.04)" font-size="13.0" fill="#000" stroke="#000" stroke-width="0.23" text-anchor="middle">C57</text>
<text transform="translate(593.2 780.9) scale(1 1.04)" font-size="13.0" fill="#000" stroke="#000" stroke-width="0.23" text-anchor="middle">BL/6J</text>
<text transform="translate(646.7 767.2) scale(1 1.04)" font-size="13.0" fill="#ed1c24" stroke="#ed1c24" stroke-width="0.23" text-anchor="middle">C58/J</text>
<text transform="translate(512.9 647) rotate(-90) scale(1 1.07)" font-size="17.3" fill="#231f20" stroke="#231f20" stroke-width="0.35" text-anchor="middle">Max decay slope (mV/ms)</text>
<path d="M582.96 610.94 C582.44 611.05 580.65 611.21 579.83 611.63 C579.01 612.04 578.49 612.67 578.04 613.42 C577.59 614.16 577.37 614.91 577.15 616.1 C576.92 617.29 576.6 619.08 576.7 620.57 C576.8 622.06 577.25 623.55 577.77 625.04 C578.3 626.54 579.29 627.73 579.83 629.52 C580.37 631.31 580.77 633.24 580.99 635.78 C581.22 638.31 580.99 642.34 581.17 644.72 C581.35 647.11 581.5 648.9 582.07 650.09 C582.63 651.28 584.15 651.56 584.57 651.85 L602.95 651.85 C603.35 651.56 604.86 651.28 605.36 650.09 C605.87 648.9 605.8 647.11 605.99 644.72 C606.18 642.34 606.23 638.31 606.53 635.78 C606.83 633.24 607.3 631.31 607.78 629.52 C608.26 627.73 608.9 626.54 609.39 625.04 C609.88 623.55 610.61 622.06 610.73 620.57 C610.85 619.08 610.36 617.29 610.1 616.1 C609.85 614.91 609.6 614.16 609.21 613.42 C608.82 612.67 608.57 612.04 607.78 611.63 C606.99 611.21 605.02 611.05 604.47 610.94 Z" fill="#a0a1a3" stroke="#77787b" stroke-width="1.4" stroke-linejoin="round"/>
<line x1="587.25" y1="626.08" x2="602.6" y2="626.08" stroke="#000" stroke-width="2.05" stroke-dasharray="5.2 4.1"/>
<line x1="578.03" y1="617.33" x2="607.21" y2="617.33" stroke="#000" stroke-width="2.0" stroke-linecap="round" stroke-dasharray="0.01 5.6"/>
<line x1="582.33" y1="646.51" x2="593.69" y2="646.51" stroke="#000" stroke-width="2.0" stroke-linecap="round" stroke-dasharray="0.01 5.6"/>
<circle cx="578.34" cy="610.73" r="2.9" fill="#fff" stroke="#000" stroke-width="1.08"/>
<circle cx="608.74" cy="611.96" r="2.9" fill="#fff" stroke="#000" stroke-width="1.08"/>
<circle cx="585.71" cy="615.34" r="2.9" fill="#fff" stroke="#000" stroke-width="1.08"/>
<circle cx="593.39" cy="618.25" r="2.9" fill="#fff" stroke="#000" stroke-width="1.08"/>
<circle cx="601.07" cy="618.1" r="2.9" fill="#fff" stroke="#000" stroke-width="1.08"/>
<circle cx="582.02" cy="624.55" r="2.9" fill="#fff" stroke="#000" stroke-width="1.08"/>
<circle cx="593.39" cy="626.24" r="2.9" fill="#fff" stroke="#000" stroke-width="1.08"/>
<circle cx="604.9" cy="625.78" r="2.9" fill="#fff" stroke="#000" stroke-width="1.08"/>
<circle cx="593.39" cy="631.92" r="2.9" fill="#fff" stroke="#000" stroke-width="1.08"/>
<circle cx="593.39" cy="640.67" r="2.9" fill="#fff" stroke="#000" stroke-width="1.08"/>
<circle cx="578.34" cy="646.81" r="2.9" fill="#fff" stroke="#000" stroke-width="1.08"/>
<circle cx="608.74" cy="646.81" r="2.9" fill="#fff" stroke="#000" stroke-width="1.08"/>
<circle cx="598.76" cy="647.27" r="2.9" fill="#fff" stroke="#000" stroke-width="1.08"/>
<circle cx="588.32" cy="651.73" r="2.9" fill="#fff" stroke="#000" stroke-width="1.08"/>
<path d="M639.07 622.55 C638.51 623.01 636.64 624.34 635.69 625.32 C634.75 626.29 634.16 626.85 633.39 628.39 C632.62 629.92 631.47 632.48 631.09 634.53 C630.7 636.58 630.57 638.62 631.09 640.67 C631.6 642.72 633.01 644.51 634.16 646.81 C635.31 649.12 636.79 651.93 638 654.49 C639.2 657.05 640.48 659.61 641.37 662.17 C642.27 664.73 642.7 667.29 643.37 669.85 C644.04 672.41 644.78 675.48 645.37 677.52 C645.95 679.57 646.65 681.36 646.9 682.13 L649.55 682.13 C649.8 681.36 650.44 679.57 651.08 677.52 C651.72 675.48 652.75 672.41 653.39 669.85 C654.03 667.29 654.03 664.73 654.92 662.17 C655.82 659.61 657.61 657.05 658.76 654.49 C659.91 651.93 660.81 649.12 661.83 646.81 C662.86 644.51 664.39 642.72 664.9 640.67 C665.41 638.62 665.41 636.58 664.9 634.53 C664.39 632.48 662.86 629.92 661.83 628.39 C660.81 626.85 659.96 626.29 658.76 625.32 C657.56 624.34 655.31 623.01 654.61 622.55 Z" fill="#f5866a" stroke="#ed1c24" stroke-width="1.95" stroke-linejoin="round"/>
<line x1="633.25" y1="642.9" x2="663.5" y2="642.9" stroke="#000" stroke-width="2.05" stroke-dasharray="5.2 4.1"/>
<line x1="644.16" y1="631.77" x2="651.07" y2="631.77" stroke="#000" stroke-width="2.0" stroke-linecap="round" stroke-dasharray="0.01 5.6"/>
<line x1="637.25" y1="653.26" x2="655.67" y2="653.26" stroke="#000" stroke-width="2.0" stroke-linecap="round" stroke-dasharray="0.01 5.6"/>
<circle cx="653.68" cy="622.86" r="2.9" fill="#fff" stroke="#000" stroke-width="1.08"/>
<circle cx="642.16" cy="626.85" r="2.9" fill="#fff" stroke="#000" stroke-width="1.08"/>
<circle cx="636.48" cy="630.54" r="2.9" fill="#fff" stroke="#000" stroke-width="1.08"/>
<circle cx="659.2" cy="631.77" r="2.9" fill="#fff" stroke="#000" stroke-width="1.08"/>
<circle cx="647.99" cy="635.45" r="2.9" fill="#fff" stroke="#000" stroke-width="1.08"/>
<circle cx="663.04" cy="636.53" r="2.9" fill="#fff" stroke="#000" stroke-width="1.08"/>
<circle cx="632.64" cy="637.91" r="2.9" fill="#fff" stroke="#000" stroke-width="1.08"/>
<circle cx="653.06" cy="642.82" r="2.9" fill="#fff" stroke="#000" stroke-width="1.08"/>
<circle cx="636.48" cy="644.97" r="2.9" fill="#fff" stroke="#000" stroke-width="1.08"/>
<circle cx="642.62" cy="644.66" r="2.9" fill="#fff" stroke="#000" stroke-width="1.08"/>
<circle cx="659.36" cy="650.19" r="2.9" fill="#fff" stroke="#000" stroke-width="1.08"/>
<circle cx="647.99" cy="653.26" r="2.9" fill="#fff" stroke="#000" stroke-width="1.08"/>
<circle cx="653.68" cy="661.71" r="2.9" fill="#fff" stroke="#000" stroke-width="1.08"/>
<circle cx="642.16" cy="667.39" r="2.9" fill="#fff" stroke="#000" stroke-width="1.08"/>
<circle cx="647.99" cy="681.21" r="2.9" fill="#fff" stroke="#000" stroke-width="1.08"/>
<line x1="597.3" y1="555.8" x2="650.8" y2="555.8" stroke="#000" stroke-width="1.45"/>
<text transform="translate(624.7 561.6)" font-size="27.5" fill="#000" stroke="#000" stroke-width="0.42" text-anchor="middle" style="stroke-width:0.55px">*</text>
</svg>
</body>
</html>
